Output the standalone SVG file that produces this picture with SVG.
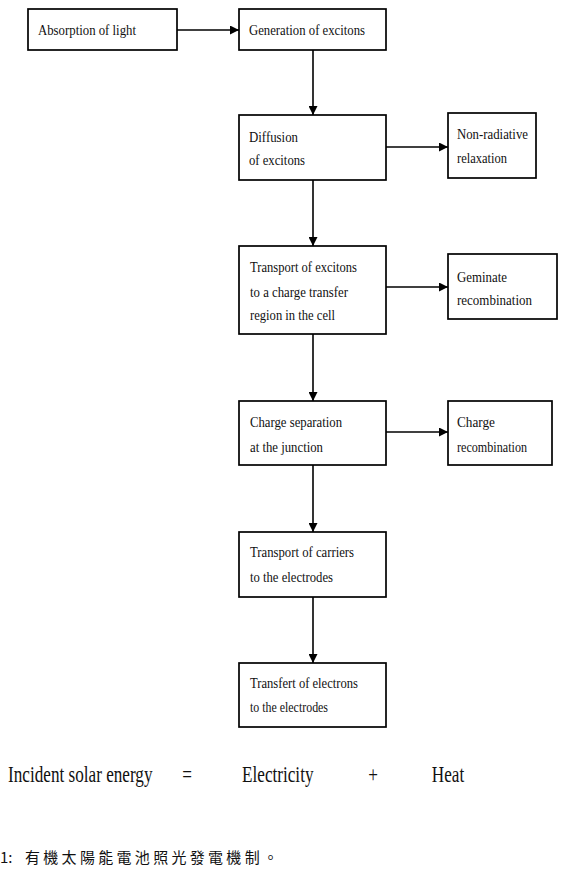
<svg xmlns="http://www.w3.org/2000/svg" width="576" height="891" viewBox="0 0 576 891">
<style>
.box{fill:#fff;stroke:#000;stroke-width:1.7}
.t{font-family:"Liberation Serif","Times New Roman",serif;font-size:15px;fill:#111}
.big{font-family:"Liberation Serif","Times New Roman",serif;font-size:24px;fill:#111}
.cap{font-family:"Noto Sans CJK TC","Liberation Serif",serif;font-size:15px;fill:#111}
.c{stroke:#000;stroke-width:1.6;fill:none}
</style>
<defs>
<marker id="ah" viewBox="0 0 10 10" refX="10" refY="5" markerWidth="10" markerHeight="9" markerUnits="userSpaceOnUse" orient="auto">
<path d="M0,0 L10,5 L0,10 z" fill="#000"/>
</marker>
</defs>
<g id="connectors">
<line class="c" x1="177" y1="30" x2="239" y2="30" marker-end="url(#ah)"/>
<line class="c" x1="313" y1="50" x2="313" y2="115" marker-end="url(#ah)"/>
<line class="c" x1="386" y1="147" x2="448" y2="147" marker-end="url(#ah)"/>
<line class="c" x1="313" y1="180" x2="313" y2="246" marker-end="url(#ah)"/>
<line class="c" x1="386" y1="287" x2="448" y2="287" marker-end="url(#ah)"/>
<line class="c" x1="313" y1="334" x2="313" y2="401" marker-end="url(#ah)"/>
<line class="c" x1="386" y1="432" x2="448" y2="432" marker-end="url(#ah)"/>
<line class="c" x1="313" y1="465" x2="313" y2="532" marker-end="url(#ah)"/>
<line class="c" x1="313" y1="597" x2="313" y2="663" marker-end="url(#ah)"/>
</g>
<g id="absorption">
<rect class="box" x="28" y="9" width="149" height="41"/>
<text class="t" x="38" y="35" textLength="98" lengthAdjust="spacingAndGlyphs">Absorption of light</text>
</g>
<g id="generation">
<rect class="box" x="239" y="9" width="147" height="41"/>
<text class="t" x="249" y="35" textLength="116" lengthAdjust="spacingAndGlyphs">Generation of excitons</text>
</g>
<g id="diffusion">
<rect class="box" x="239" y="115" width="147" height="65"/>
<text class="t" x="249" y="142" textLength="49" lengthAdjust="spacingAndGlyphs">Diffusion</text>
<text class="t" x="249" y="165" textLength="56" lengthAdjust="spacingAndGlyphs">of excitons</text>
</g>
<g id="nonradiative">
<rect class="box" x="448" y="113" width="88" height="65"/>
<text class="t" x="457" y="139" textLength="71" lengthAdjust="spacingAndGlyphs">Non-radiative</text>
<text class="t" x="457" y="163" textLength="50" lengthAdjust="spacingAndGlyphs">relaxation</text>
</g>
<g id="transport-excitons">
<rect class="box" x="239" y="246" width="147" height="88"/>
<text class="t" x="250" y="272" textLength="107" lengthAdjust="spacingAndGlyphs">Transport of excitons</text>
<text class="t" x="250" y="297" textLength="98" lengthAdjust="spacingAndGlyphs">to a charge transfer</text>
<text class="t" x="250" y="320" textLength="85" lengthAdjust="spacingAndGlyphs">region in the cell</text>
</g>
<g id="geminate">
<rect class="box" x="448" y="254" width="109" height="65"/>
<text class="t" x="457" y="282" textLength="50" lengthAdjust="spacingAndGlyphs">Geminate</text>
<text class="t" x="457" y="305" textLength="75" lengthAdjust="spacingAndGlyphs">recombination</text>
</g>
<g id="charge-separation">
<rect class="box" x="239" y="401" width="147" height="64"/>
<text class="t" x="250" y="427" textLength="92" lengthAdjust="spacingAndGlyphs">Charge separation</text>
<text class="t" x="250" y="452" textLength="73" lengthAdjust="spacingAndGlyphs">at the junction</text>
</g>
<g id="charge-recombination">
<rect class="box" x="448" y="401" width="104" height="64"/>
<text class="t" x="457" y="427" textLength="38" lengthAdjust="spacingAndGlyphs">Charge</text>
<text class="t" x="457" y="452" textLength="70" lengthAdjust="spacingAndGlyphs">recombination</text>
</g>
<g id="transport-carriers">
<rect class="box" x="239" y="532" width="147" height="65"/>
<text class="t" x="250" y="557" textLength="104" lengthAdjust="spacingAndGlyphs">Transport of carriers</text>
<text class="t" x="250" y="582" textLength="83" lengthAdjust="spacingAndGlyphs">to the electrodes</text>
</g>
<g id="transfert-electrons">
<rect class="box" x="239" y="663" width="147" height="64"/>
<text class="t" x="250" y="688" textLength="108" lengthAdjust="spacingAndGlyphs">Transfert of electrons</text>
<text class="t" x="250" y="712" textLength="78" lengthAdjust="spacingAndGlyphs">to the electrodes</text>
</g>
<g id="equation" transform="scale(0.715,1)">
<text class="big" x="11.2" y="782">Incident solar energy</text>
<text class="big" x="255" y="782">=</text>
<text class="big" x="338.5" y="782">Electricity</text>
<text class="big" x="515" y="782">+</text>
<text class="big" x="604" y="782">Heat</text>
</g>
<g id="caption">
<text class="cap" x="0" y="863">1: </text>
<text class="cap" x="25" y="863" textLength="253" lengthAdjust="spacing">有機太陽能電池照光發電機制。</text>
</g>
</svg>
